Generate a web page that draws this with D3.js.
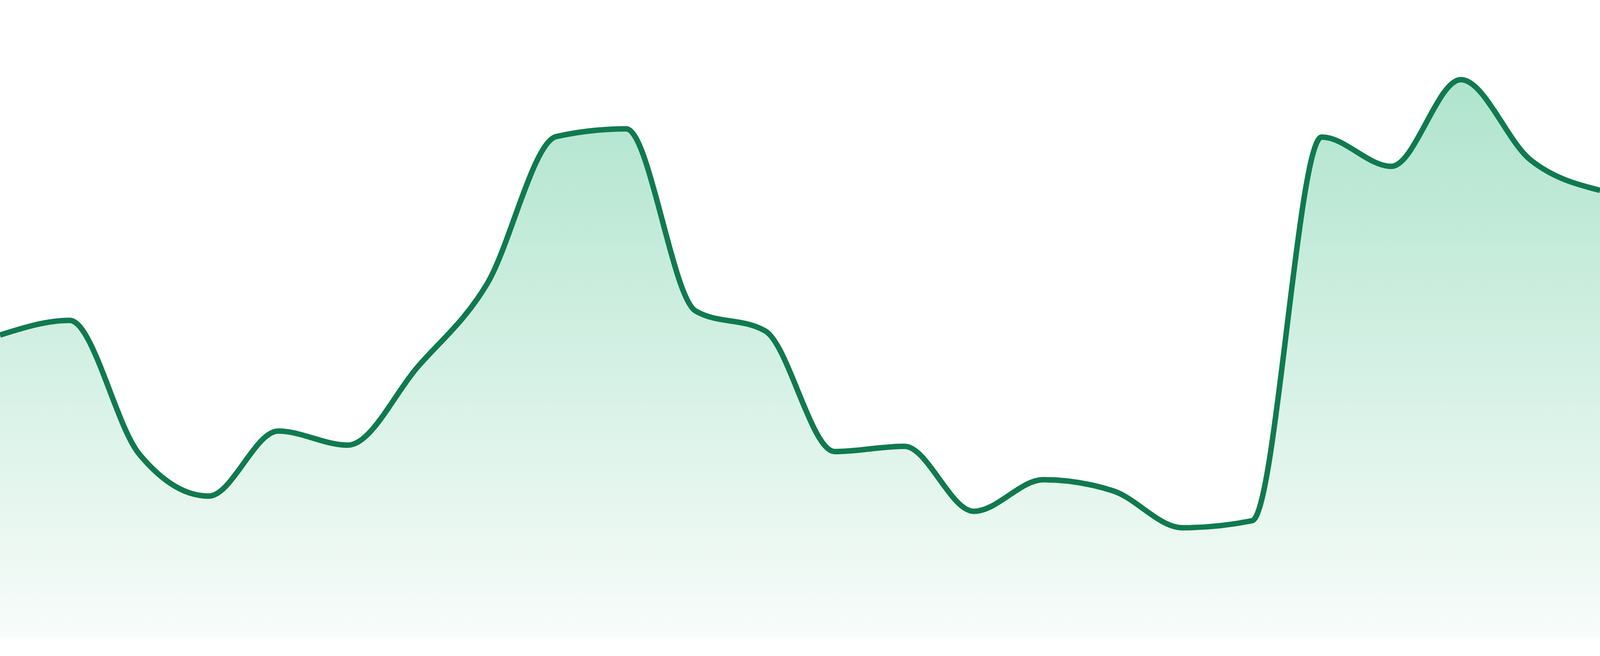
<!DOCTYPE html>
<html>
<head>
<meta charset="utf-8">
<script src="https://cdn.jsdelivr.net/npm/d3@7"></script>
<style>
  html, body { margin: 0; padding: 0; background: #ffffff; overflow: hidden; }
  svg { display: block; }
</style>
</head>
<body>
<svg id="chart"></svg>
<script>
// one value per day
days = d3.range(1, 25)
values = [51.6, 54.1, 31.3, 24.1, 35.2, 32.8, 46.1, 60.3, 85.5, 86.8, 55.7, 52.3,
  31.7, 32.6, 21.5, 26.9, 25.0, 18.7, 19.9, 85.4, 80.4, 95.2, 81.5, 76.3]

function visualize() {
  // fill whatever the window gives us (meant for 4800x1680)
  let width = window.innerWidth || 4800,
    height = window.innerHeight || 1680,
    k = height / 1680
  let data = days.map((d, i) => ({day: d, value: values[i]}))

  x = d3.scaleLinear()
    .domain(d3.extent(days))
    .range([0, width])
  y = d3.scaleLinear()
    .domain([0, 100])
    .range([height - 48 * k, 132 * k])

  let svg = d3.select("#chart")
    .attr("width", width)
    .attr("height", height)

  // soft green wash that fades out towards the base
  let grad = svg.append("defs")
    .append("linearGradient")
    .attr("id", "fade")
    .attr("x1", 0).attr("y1", 0)
    .attr("x2", 0).attr("y2", 1)
  grad.append("stop").attr("offset", "0%").attr("stop-color", "#afe4cd")
  grad.append("stop").attr("offset", "100%").attr("stop-color", "#f8fcfa")

  let area_gen = d3.area()
    .x(d => x(d.day))
    .y0(y(0))
    .y1(d => y(d.value))
    .curve(d3.curveMonotoneX)

  let line_gen = d3.line()
    .x(d => x(d.day))
    .y(d => y(d.value))
    .curve(d3.curveMonotoneX)

  svg.append("path")
    .datum(data)
    .attr("d", area_gen)
    .attr("fill", "url(#fade)")

  svg.append("path")
    .datum(data)
    .attr("d", line_gen)
    .attr("fill", "none")
    .attr("stroke", "#107a4f")
    .attr("stroke-width", 14 * k)
    .attr("stroke-linejoin", "round")
}

visualize()
</script>
</body>
</html>
